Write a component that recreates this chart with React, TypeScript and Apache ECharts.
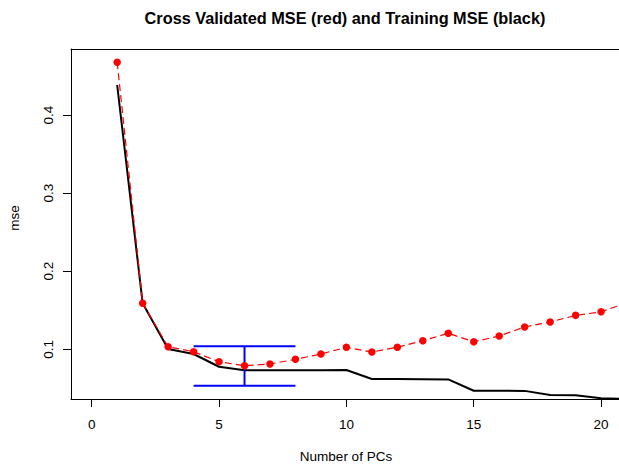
import React, { useEffect, useRef } from "react";
import * as echarts from "echarts";

// Number of principal components used in each fit
const pcs = [1, 2, 3, 4, 5, 6, 7, 8, 9, 10, 11, 12, 13, 14, 15, 16, 17, 18, 19, 20, 21];

// Cross-validated MSE (red) per number of PCs
const cvMse = [
  0.4675, 0.1589, 0.1033, 0.0969, 0.0841, 0.079, 0.0812, 0.0872, 0.094, 0.1026,
  0.0965, 0.1026, 0.111, 0.1205, 0.1097, 0.117, 0.1286, 0.135, 0.1435, 0.148, 0.1596,
];

// Training MSE (black) per number of PCs
const trainMse = [
  0.4384, 0.159, 0.1004, 0.094, 0.0777, 0.0731, 0.0731, 0.0732, 0.0733, 0.0735,
  0.062, 0.062, 0.0618, 0.0615, 0.047, 0.047, 0.0468, 0.0415, 0.0413, 0.0373, 0.0366,
];

// One-standard-error bar around the minimum CV error
const errCenter = [6];
const errLow = [0.0534];
const errHigh = [0.1038];
const errCapFrom = [4];
const errCapTo = [8];

// Tick positions
const xTicks = [0, 5, 10, 15, 20];
const yTicks = [0.1, 0.2, 0.3, 0.4];

const X_MIN = -0.813;
const X_MAX = 20.703;
const Y_MIN = 0.0364;
const Y_MAX = 0.4845;

const FONT = '"Liberation Sans", Arial, Helvetica, sans-serif';
const BOX_LINE = { show: true, lineStyle: { color: "#000", width: 1 } };

export default function App() {
  const ref = useRef<HTMLDivElement>(null);

  useEffect(() => {
    document.body.style.margin = "0";
    if (!ref.current) return;
    const chart = echarts.init(ref.current, undefined, { renderer: "svg" });

    const cvData = pcs.map((p, i) => [p, cvMse[i]]);
    const trainData = pcs.map((p, i) => [p, trainMse[i]]);
    const errData = errCenter.map((c, i) => [c, errLow[i], errHigh[i], errCapFrom[i], errCapTo[i]]);

    chart.setOption({
      animation: false,
      backgroundColor: "#fff",
      textStyle: { fontFamily: FONT },
      grid: {
        left: 71,
        top: 49,
        bottom: 65,
        right: 0,
        show: false,
        containLabel: false,
      },
      xAxis: [
        {
          type: "value",
          position: "bottom",
          min: X_MIN,
          max: X_MAX,
          splitLine: { show: false },
          axisLine: { ...BOX_LINE, onZero: false },
          axisTick: {
            show: true,
            inside: false,
            length: 8,
            customValues: xTicks,
            lineStyle: { color: "#000", width: 1 },
          },
          axisLabel: {
            customValues: xTicks,
            color: "#000",
            fontSize: 13.5,
            fontFamily: FONT,
            margin: 18,
          },
        },
        {
          // top edge of the plot frame
          type: "value",
          position: "top",
          min: X_MIN,
          max: X_MAX,
          splitLine: { show: false },
          axisLine: { ...BOX_LINE, onZero: false },
          axisTick: { show: false },
          axisLabel: { show: false },
        },
      ],
      yAxis: {
        type: "value",
        min: Y_MIN,
        max: Y_MAX,
        splitLine: { show: false },
        axisLine: { ...BOX_LINE, onZero: false },
        axisTick: {
          show: true,
          inside: false,
          length: 8,
          customValues: yTicks,
          lineStyle: { color: "#000", width: 1 },
        },
        axisLabel: {
          customValues: yTicks,
          color: "#000",
          fontSize: 13.5,
          fontFamily: FONT,
          rotate: 90,
          margin: 16,
        },
      },
      graphic: [
        {
          type: "text",
          x: 345,
          y: 18,
          style: {
            text: "Cross Validated MSE (red) and Training MSE (black)",
            textAlign: "center",
            textVerticalAlign: "middle",
            align: "center",
            verticalAlign: "middle",
            fontSize: 16.3,
            fontWeight: "bold",
            fontFamily: FONT,
            fill: "#000",
          },
        },
        {
          type: "text",
          x: 346,
          y: 456,
          style: {
            text: "Number of PCs",
            textAlign: "center",
            textVerticalAlign: "middle",
            align: "center",
            verticalAlign: "middle",
            fontSize: 13.5,
            fontFamily: FONT,
            fill: "#000",
          },
        },
        {
          type: "text",
          x: 14,
          y: 218,
          rotation: Math.PI / 2,
          style: {
            text: "mse",
            textAlign: "center",
            textVerticalAlign: "middle",
            align: "center",
            verticalAlign: "middle",
            fontSize: 13.5,
            fontFamily: FONT,
            fill: "#000",
          },
        },
      ],
      series: [
        {
          name: "Training MSE",
          type: "line",
          data: trainData,
          showSymbol: false,
          symbol: "none",
          lineStyle: { color: "#000", width: 2 },
          z: 2,
        },
        {
          name: "CV error bar",
          type: "custom",
          data: errData,
          z: 3,
          renderItem: (params: any, api: any) => {
            const c = api.value(0);
            const lo = api.value(1);
            const hi = api.value(2);
            const a = api.value(3);
            const b = api.value(4);
            const pLo = api.coord([c, lo]);
            const pHi = api.coord([c, hi]);
            const tl = api.coord([a, hi]);
            const tr = api.coord([b, hi]);
            const bl = api.coord([a, lo]);
            const br = api.coord([b, lo]);
            const st = { stroke: "#0000ff", lineWidth: 2 };
            return {
              type: "group",
              children: [
                { type: "line", shape: { x1: pLo[0], y1: pLo[1], x2: pHi[0], y2: pHi[1] }, style: st },
                { type: "line", shape: { x1: tl[0], y1: tl[1], x2: tr[0], y2: tr[1] }, style: st },
                { type: "line", shape: { x1: bl[0], y1: bl[1], x2: br[0], y2: br[1] }, style: st },
              ],
            };
          },
        },
        {
          name: "Cross Validated MSE",
          type: "line",
          data: cvData,
          symbol: "circle",
          symbolSize: 7.5,
          showSymbol: true,
          itemStyle: { color: "#ff0000" },
          lineStyle: { color: "#ff0000", width: 1.2, type: [7, 4] },
          z: 4,
        },
      ],
    });

    return () => chart.dispose();
  }, []);

  return <div ref={ref} style={{ width: 619, height: 464 }} />;
}
